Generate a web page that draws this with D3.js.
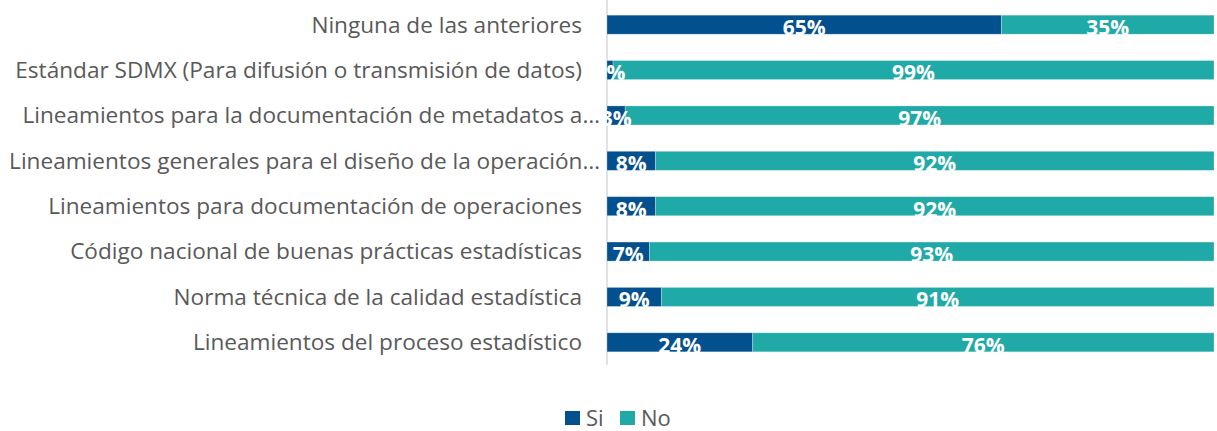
<!DOCTYPE html>
<html>
<head>
<meta charset="utf-8">
<script src="https://cdn.jsdelivr.net/npm/d3@7"></script>
<style>
	body { margin: 0; background: #fff; }
	svg { display: block; font-family: "Open Sans", "Noto Sans", sans-serif; }
</style>
</head>
<body>
<svg width="1217" height="431"></svg>
<script>
// Stacked 100% bar chart

var categories = [
	'Ninguna de las anteriores',
	'Estándar SDMX (Para difusión o transmisión de datos)',
	'Lineamientos para la documentación de metadatos a…',
	'Lineamientos generales para el diseño de la operación…',
	'Lineamientos para documentación de operaciones',
	'Código nacional de buenas prácticas estadísticas',
	'Norma técnica de la calidad estadística',
	'Lineamientos del proceso estadístico'
]
var si = [65, 1, 3, 8, 8, 7, 9, 24]
var no = [35, 99, 97, 92, 92, 93, 91, 76]
var seriesNames = ['Si', 'No']
var colors = ['#03508f', '#20aaa7']

var svg = d3.select('svg')

var x = d3.scaleLinear().domain([0, 100]).range([607, 1214])
var y = d3.scaleBand().domain(categories).range([2, 365]).paddingInner(0.58).paddingOuter(0.29)

var rows = categories.map(function(c, i) {
	return {cat: c, parts: [
		{s: 0, x0: 0, x1: si[i], v: si[i]},
		{s: 1, x0: si[i], x1: si[i] + no[i], v: no[i]}
	]}
})

// axis line
svg.append('line')
	.attr('x1', x(0)).attr('x2', x(0))
	.attr('y1', 0).attr('y2', 365)
	.attr('stroke', '#d9d9d9').attr('stroke-width', 1.5)

// category labels
svg.append('g').selectAll('text')
	.data(categories)
	.enter()
	.append('text')
	.attr('x', function(d) { return d.slice(-1) == '…' ? 600 : 582 })
	.attr('y', function(d) { return y(d) + y.bandwidth() / 2 })
	.attr('dy', '0.35em')
	.attr('text-anchor', 'end')
	.attr('fill', '#595959')
	.style('font-size', '22.6px')
	.text(function(d) { return d })

var row = svg.append('g').selectAll('g')
	.data(rows)
	.enter()
	.append('g')
	.attr('transform', function(d) { return 'translate(0,' + y(d.cat) + ')' })

row.selectAll('rect')
	.data(function(d) { return d.parts })
	.enter()
	.append('rect')
	.attr('x', function(d) { return x(d.x0) })
	.attr('width', function(d) { return x(d.x1) - x(d.x0) })
	.attr('height', y.bandwidth())
	.attr('fill', function(d) { return colors[d.s] })
	.attr('stroke', '#fff').attr('stroke-opacity', 0.35).attr('stroke-width', 0.8)

row.selectAll('text')
	.data(function(d) { return d.parts })
	.enter()
	.append('text')
	.attr('x', function(d) { return x((d.x0 + d.x1) / 2) })
	.attr('y', y.bandwidth() / 2 + 3)
	.attr('dy', '0.35em')
	.attr('text-anchor', 'middle')
	.attr('fill', '#fff')
	.style('font-size', '21px')
	.style('font-weight', 'bold')
	.text(function(d) { return d.v + '%' })

// legend
var legend = svg.append('g').selectAll('g')
	.data(seriesNames)
	.enter()
	.append('g')
	.attr('transform', function(d, i) { return 'translate(' + (565 + i * 55) + ',411)' })

legend.append('rect')
	.attr('width', 15).attr('height', 14)
	.attr('fill', function(d, i) { return colors[i] })

legend.append('text')
	.attr('x', 21).attr('y', 7)
	.attr('dy', '0.35em')
	.attr('fill', '#595959')
	.style('font-size', '22px')
	.text(function(d) { return d })
</script>
</body>
</html>
